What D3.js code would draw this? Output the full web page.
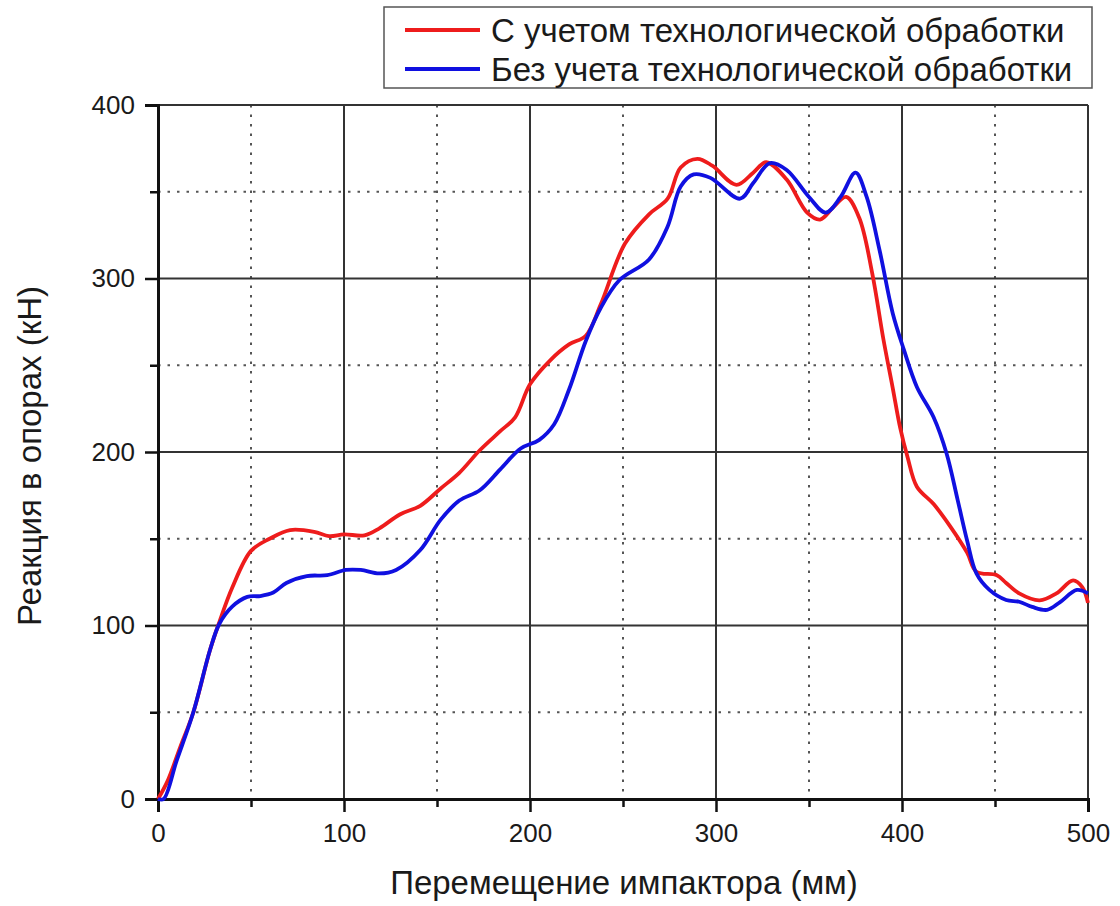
<!DOCTYPE html>
<html>
<head>
<meta charset="utf-8">
<script src="https://cdn.jsdelivr.net/npm/d3@7"></script>
<style>
body { margin: 0; background: #fff; }
svg text { font-family: "Liberation Sans", Arial, sans-serif; fill: #1a1a1a; }
</style>
</head>
<body>
<div id="chart"></div>
<script>
// series names
var seriesNames = ["С учетом технологической обработки", "Без учета технологической обработки"];
var seriesColors = ["#ee1c1c", "#1010e0"];

// red: with technological treatment  [displacement mm, reaction kN]
var redX = [0, 5, 12, 19, 28, 33, 40, 50, 60, 71, 84, 92, 100, 111, 119, 130, 141, 152, 162, 173, 184, 192, 200, 211, 221, 230, 238, 251, 264, 274, 281, 290, 298, 311, 320, 327, 338, 349, 356, 363, 370, 377, 384, 390, 395, 399, 403, 408, 417, 426, 435, 440, 451, 456, 463, 474, 483, 492, 497, 500];
var redY = [0, 10, 30, 50, 86, 102, 122, 143, 150, 155, 154, 151.5, 152.5, 152, 156, 164, 169, 179, 188, 201, 212, 220, 239, 253, 262, 267, 285, 320, 337, 346, 364, 369, 365, 354, 361, 367, 357, 338, 334, 341, 347, 335, 303, 265, 237, 214, 197, 180, 170, 157, 142, 131, 129, 124.5, 118.5, 114.5, 118.5, 126, 122, 113];

// blue: without technological treatment
var blueX = [0, 3, 10, 19, 28, 33, 40, 48, 55, 62, 69, 80, 91, 101, 109, 119, 128, 141, 152, 162, 173, 184, 195, 205, 213, 221, 230, 238, 248, 264, 274, 281, 288, 297, 313, 320, 329, 338, 350, 359, 367, 375, 381, 388, 395, 401, 408, 417, 424, 430, 435, 440, 447, 456, 463, 470, 478, 485, 494, 500];
var blueY = [0, 0, 22, 50, 86, 101, 111, 116.5, 117, 119, 124.5, 128.5, 129, 132, 132, 130, 132, 143.5, 161, 172, 178, 190, 202, 207, 216, 236, 264, 283, 299, 311, 330, 353, 360, 358, 346, 355, 366.5, 362.5, 347, 338, 347, 361, 347, 316, 280, 259, 237.5, 220, 199, 172, 149, 130, 120.5, 114.7, 113.7, 110.7, 109, 113.5, 120.5, 118.5];

var xMajor = [0, 100, 200, 300, 400, 500];
var xMinor = [50, 150, 250, 350, 450];
var yMajor = [0, 100, 200, 300, 400];
var yMinor = [50, 150, 250, 350];

var W = 1120, H = 906;
var m = {left: 158, right: 32, top: 105, bottom: 107};

var svg = d3.select("#chart").append("svg")
  .attr("width", W).attr("height", H);

var x = d3.scaleLinear().domain([0, 500]).range([m.left, W - m.right]);
var y = d3.scaleLinear().domain([0, 400]).range([H - m.bottom, m.top]);

// minor grid (dotted)
var grid = svg.append("g");
grid.selectAll(".vmin").data(xMinor).enter().append("line")
  .attr("x1", d => x(d)).attr("x2", d => x(d))
  .attr("y1", y(400)).attr("y2", y(0))
  .attr("stroke", "#555").attr("stroke-width", 2).attr("stroke-dasharray", "2.5,7");
grid.selectAll(".hmin").data(yMinor).enter().append("line")
  .attr("x1", x(0)).attr("x2", x(500))
  .attr("y1", d => y(d)).attr("y2", d => y(d))
  .attr("stroke", "#555").attr("stroke-width", 2).attr("stroke-dasharray", "2.5,7");
// major grid
grid.selectAll(".vmaj").data(xMajor).enter().append("line")
  .attr("x1", d => x(d)).attr("x2", d => x(d))
  .attr("y1", y(400)).attr("y2", y(0))
  .attr("stroke", "#333").attr("stroke-width", 2);
grid.selectAll(".hmaj").data(yMajor).enter().append("line")
  .attr("x1", x(0)).attr("x2", x(500))
  .attr("y1", d => y(d)).attr("y2", d => y(d))
  .attr("stroke", "#333").attr("stroke-width", 2);

// axes
var xAxis = svg.append("g").attr("transform", "translate(0," + y(0) + ")")
  .call(d3.axisBottom(x).tickValues(xMajor).tickSize(13).tickPadding(8).tickFormat(d3.format("d")));
svg.append("g").attr("transform", "translate(0," + y(0) + ")")
  .call(d3.axisBottom(x).tickValues(xMinor).tickSize(8).tickFormat(""))
  .call(g => g.select(".domain").remove());
var yAxis = svg.append("g").attr("transform", "translate(" + x(0) + ",0)")
  .call(d3.axisLeft(y).tickValues(yMajor).tickSize(13).tickPadding(10).tickFormat(d3.format("d")));
svg.append("g").attr("transform", "translate(" + x(0) + ",0)")
  .call(d3.axisLeft(y).tickValues(yMinor).tickSize(8).tickFormat(""))
  .call(g => g.select(".domain").remove());

svg.selectAll(".domain").attr("stroke", "#111").attr("stroke-width", 3);
svg.selectAll(".tick line").attr("stroke", "#111").attr("stroke-width", 2.5);
svg.selectAll(".tick text").attr("font-size", 26).attr("fill", "#1a1a1a")
  .style("font-family", "'Liberation Sans', Arial, sans-serif");
xAxis.selectAll(".tick text").attr("dy", "0.85em");

// curves
var line = d3.line().x(d => x(d[0])).y(d => y(d[1])).curve(d3.curveCatmullRom.alpha(0.5));
var series = [d3.zip(redX, redY), d3.zip(blueX, blueY)];
svg.append("path").datum(series[0]).attr("d", line)
  .attr("fill", "none").attr("stroke", seriesColors[0]).attr("stroke-width", 3.8);
svg.append("path").datum(series[1]).attr("d", line)
  .attr("fill", "none").attr("stroke", seriesColors[1]).attr("stroke-width", 3.8);

// axis titles
svg.append("text").attr("x", 624).attr("y", 894)
  .attr("text-anchor", "middle").attr("font-size", 33)
  .text("Перемещение импактора (мм)");
svg.append("text").attr("transform", "translate(41,456) rotate(-90)")
  .attr("text-anchor", "middle").attr("font-size", 33)
  .text("Реакция в опорах (кН)");

// legend
var lg = svg.append("g");
lg.append("rect").attr("x", 384).attr("y", 7).attr("width", 708).attr("height", 81)
  .attr("fill", "#fff").attr("stroke", "#555").attr("stroke-width", 1.5);
seriesNames.forEach(function(name, i) {
  var ly = 30 + i * 39;
  lg.append("line").attr("x1", 405).attr("x2", 480).attr("y1", ly).attr("y2", ly)
    .attr("stroke", seriesColors[i]).attr("stroke-width", 3.8);
  lg.append("text").attr("x", 491).attr("y", ly + 12).attr("font-size", 33).text(name);
});
</script>
</body>
</html>
